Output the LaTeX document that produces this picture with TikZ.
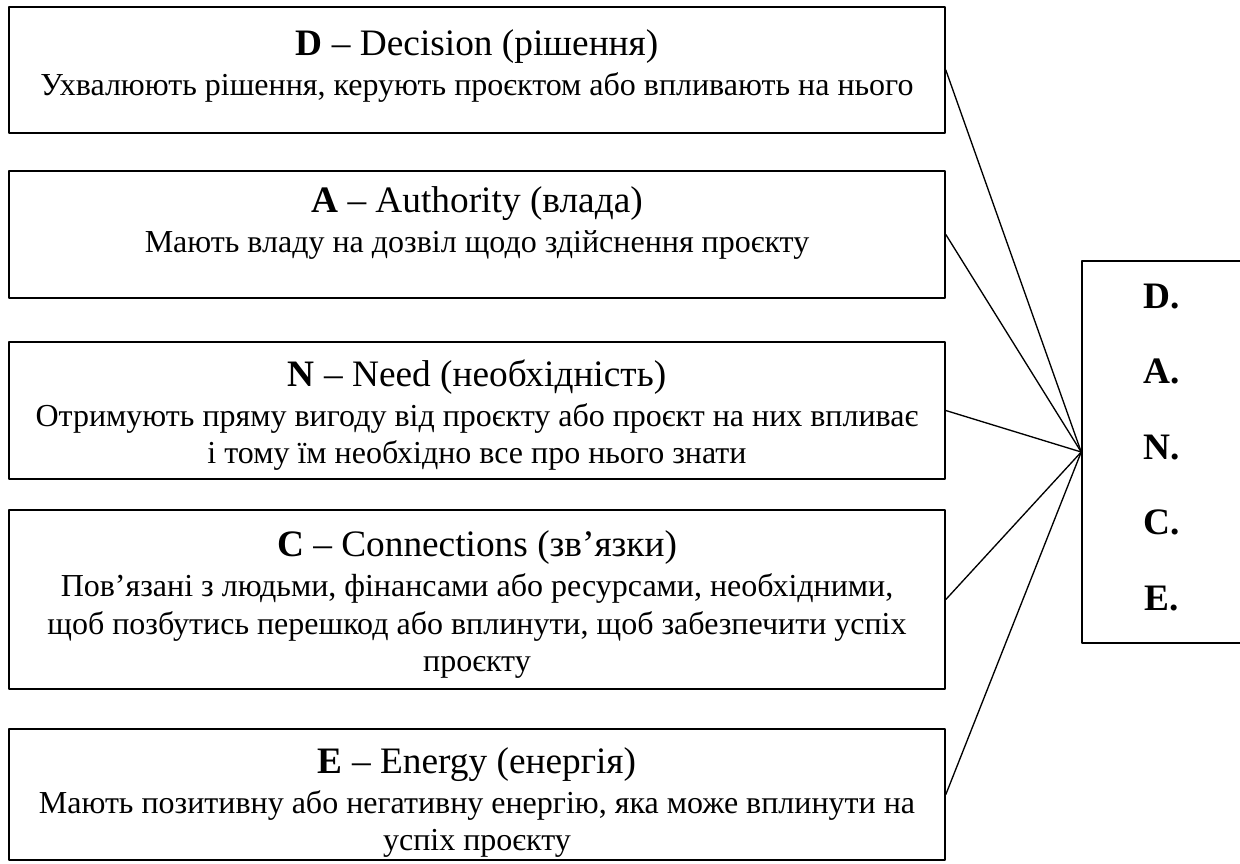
\documentclass[tikz,border=0pt]{standalone}
\usepackage{fontspec}
\setmainfont{Liberation Serif}
\usetikzlibrary{positioning}
\newcommand{\boxheading}[1]{{\fontsize{14}{16}\selectfont #1}}

\begin{document}
\begin{tikzpicture}[x=0.375pt, y=-0.375pt, line cap=round, line join=round,
  box/.style={draw, line width=0.6pt, inner sep=0pt, minimum width=351pt},
  boxtext/.style={align=center, inner sep=0pt, font=\fontsize{12}{14}\selectfont}]

\useasboundingbox[fill=white] (0,0) rectangle (1240,863);

% Drawing left boxes

\node[box, minimum height=47.25pt] (d) at (477,70) {};
\node[boxtext, below=8.6pt of d.north] (dtext)
  {\boxheading{\textbf{D} – Decision (рішення)}\\[1pt]
   Ухвалюють рішення, керують проєктом або впливають на нього};

\node[box, minimum height=47.6pt] (a) at (477,234.5) {};
\node[boxtext, below=6pt of a.north] (atext)
  {\boxheading{\textbf{A} – Authority (влада)}\\[1pt]
   Мають владу на дозвіл щодо здійснення проєкту};

\node[box, minimum height=51.4pt] (n) at (477,410.5) {};
\node[boxtext, below=6.8pt of n.north] (ntext)
  {\boxheading{\textbf{N} – Need (необхідність)}\\[1pt]
   Отримують пряму вигоду від проєкту або проєкт на них впливає\\
   і тому їм необхідно все про нього знати};

\node[box, minimum height=67.1pt] (c) at (477,599.5) {};
\node[boxtext, below=7.9pt of c.north] (ctext)
  {\boxheading{\textbf{C} – Connections (зв’язки)}\\[1pt]
   Пов’язані з людьми, фінансами або ресурсами, необхідними,\\
   щоб позбутись перешкод або вплинути, щоб забезпечити успіх\\
   проєкту};

\node[box, minimum height=49.1pt] (e) at (477,794.5) {};
\node[boxtext, below=7.1pt of e.north] (etext)
  {\boxheading{\textbf{E} – Energy (енергія)}\\[1pt]
   Мають позитивну або негативну енергію, яка може вплинути на\\
   успіх проєкту};

% Right box

\node[box, minimum width=60pt, minimum height=143.25pt, align=center, text depth=3.75pt,
  font=\fontsize{14}{28.3}\selectfont\bfseries] (dance) at (1162,452)
  {D.\\ A.\\ N.\\ C.\\ E.};

% Connectors

\draw[line width=0.5pt] (d.east) -- (dance.west);
\draw[line width=0.5pt] (a.east) -- (dance.west);
\draw[line width=0.5pt] (n.east) -- (dance.west);
\draw[line width=0.5pt] (c.east) -- (dance.west);
\draw[line width=0.5pt] (e.east) -- (dance.west);

\end{tikzpicture}
\end{document}
